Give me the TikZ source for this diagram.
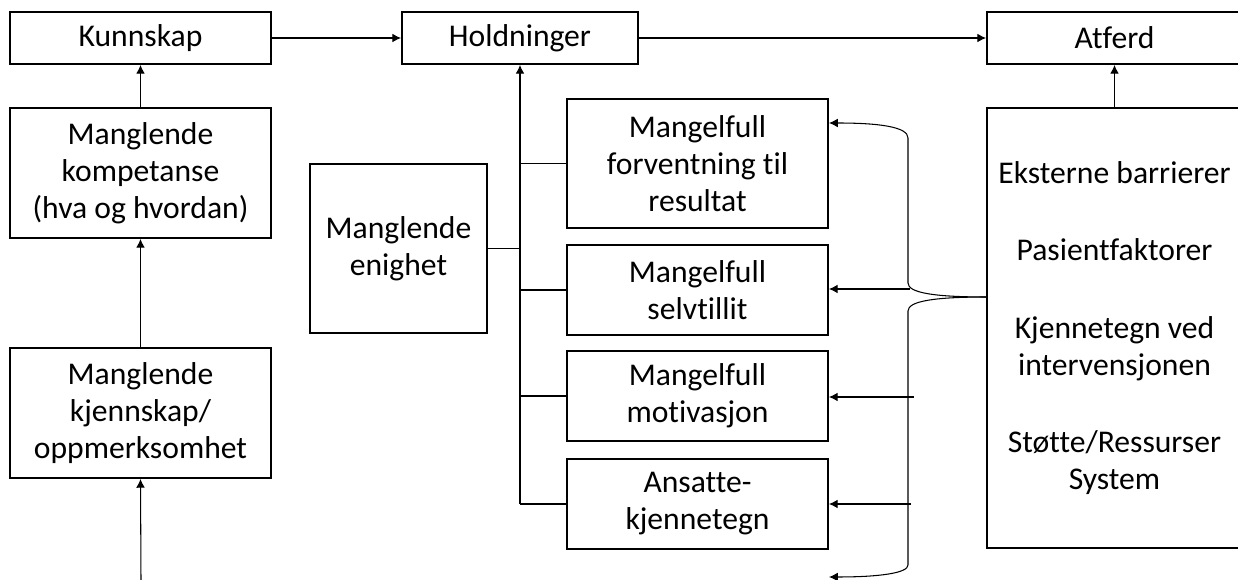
\documentclass[tikz,border=0pt]{standalone}
\usepackage{fontspec}
\setmainfont{Carlito}[Ligatures=NoCommon]
\usetikzlibrary{arrows.meta}
\tikzset{
  box/.style={draw, line width=1.1pt, align=center, inner sep=2pt,
    font=\fontsize{18}{21}\selectfont},
  arr/.style={-{Latex[length=5pt,width=5pt]}, line width=0.6pt},
  ln/.style={line width=0.6pt}
}
\begin{document}
\begin{tikzpicture}[x=0.02cm, y=-0.02cm]
\clip (0,0) rectangle (1238,580);
% top row
\node[box, minimum width=5.22cm, minimum height=1.04cm] (kunn) at (140.5,38) {Kunnskap};
\node[box, minimum width=4.72cm, minimum height=1.04cm] (hold) at (520,38) {Holdninger};
\node[box, minimum width=5.1cm, minimum height=1.04cm] (atf) at (1114.5,38) {Atferd};
% left column
\node[box, minimum width=5.22cm, minimum height=2.6cm] (komp) at (140.5,173) {Manglende\\kompetanse\\(hva og hvordan)};
\node[box, minimum width=5.22cm, minimum height=2.6cm] (kjenn) at (140.5,413) {Manglende\\kjennskap/\\oppmerksomhet};
% attitudes
\node[box, minimum width=3.54cm, minimum height=3.38cm] (enig) at (398.5,248.5) {Manglende\\enighet};
\node[box, minimum width=5.22cm, minimum height=2.58cm] (forv) at (697.5,163.5) {Mangelfull\\forventning til\\resultat};
\node[box, minimum width=5.22cm, minimum height=1.8cm] (selv) at (697.5,290) {Mangelfull\\selvtillit};
\node[box, minimum width=5.22cm, minimum height=1.8cm] (moti) at (697.5,396) {Mangelfull\\motivasjon};
\node[box, minimum width=5.22cm, minimum height=1.8cm] (ansa) at (697.5,504) {Ansatte-\\kjennetegn};
% barriers
\node[box, minimum width=5.1cm, minimum height=8.8cm] (ekst) at (1114.5,328)
  {Eksterne barrierer\\[23pt]Pasientfaktorer\\[23pt]Kjennetegn ved\\intervensjonen\\[23pt]Støtte/Ressurser\\System};

% knowledge chain
\coordinate (start) at (141,580);
\draw[arr] (start) -- (kjenn.south);
\draw[arr] (kjenn.north) -- (komp.south);
\draw[arr] (komp.north) -- (kunn.south);
\draw[arr] (kunn.east) -- (hold.west);
\draw[arr] (hold.east) -- (atf.west);
\draw[arr] (ekst.north) -- (atf.south);

% trunk to Holdninger
\draw[arr] (ansa.west -| hold.south) -- (hold.south);
\draw[ln] (enig.east) -- (enig.east -| hold.south);
\foreach \n in {forv,selv,moti,ansa}
  \draw[ln] (\n.west -| hold.south) -- (\n.west);

% brace from the barriers
\coordinate (tip) at (987,297);
\coordinate (top) at (829,123);
\coordinate (bot) at (829,577);
\draw[arr] (tip) .. controls (935,297) and (908,293) .. (908,283) -- (908,138)
  .. controls (908,127) and (880,123) .. (top);
\draw[arr] (tip) .. controls (935,297) and (908,301) .. (908,311) -- (908,565)
  .. controls (908,573) and (880,577) .. (bot);
\coordinate (s1) at (910,289);
\coordinate (s2) at (914,397);
\coordinate (s3) at (911,504);
\draw[arr] (s1) -- (s1 -| selv.east);
\draw[arr] (s2) -- (s2 -| moti.east);
\draw[arr] (s3) -- (s3 -| ansa.east);
\end{tikzpicture}
\end{document}
